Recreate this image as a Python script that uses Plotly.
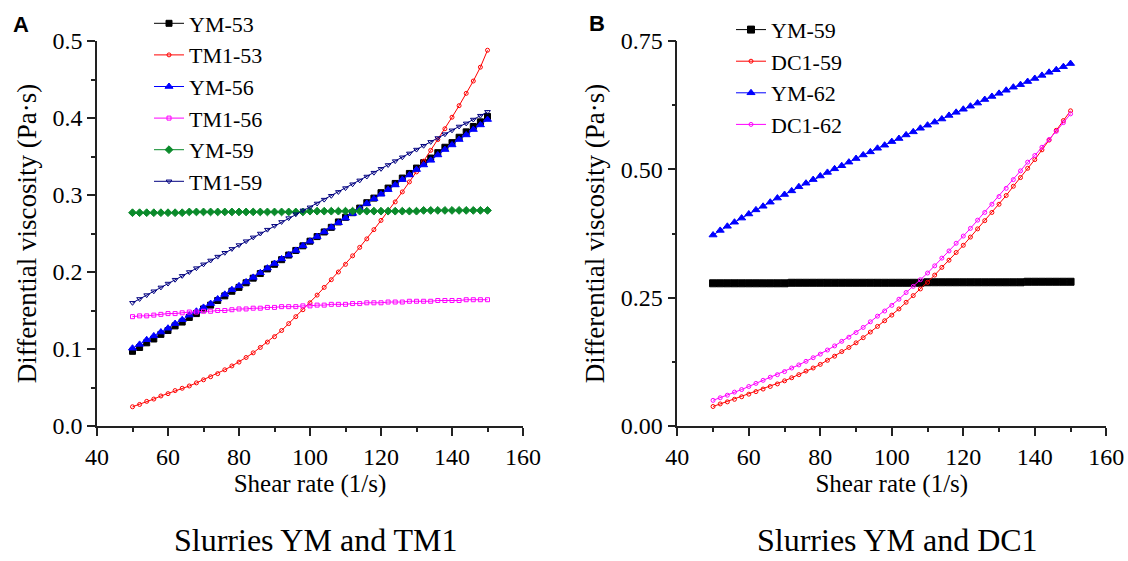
import plotly.graph_objects as go

# Shear rate (1/s) sampled every 2 units
shear_rate = list(range(50, 151, 2))

# ---- Slurries YM and TM1: differential viscosity (Pa·s) ----
ym_53 = [0.097, 0.102, 0.108, 0.113, 0.119, 0.124, 0.130, 0.135, 0.141, 0.146,
         0.152, 0.157, 0.163, 0.169, 0.175, 0.180, 0.186, 0.192, 0.198, 0.204,
         0.210, 0.216, 0.222, 0.228, 0.234, 0.240, 0.246, 0.252, 0.258, 0.265,
         0.271, 0.277, 0.283, 0.290, 0.296, 0.303, 0.309, 0.315, 0.322, 0.328,
         0.335, 0.342, 0.348, 0.355, 0.362, 0.368, 0.375, 0.382, 0.389, 0.395,
         0.402]
tm1_53 = [0.025, 0.028, 0.032, 0.035, 0.039, 0.042, 0.046, 0.049, 0.052, 0.056,
          0.060, 0.064, 0.068, 0.073, 0.078, 0.083, 0.089, 0.095, 0.102, 0.109,
          0.116, 0.124, 0.133, 0.142, 0.151, 0.160, 0.170, 0.180, 0.190, 0.200,
          0.210, 0.221, 0.232, 0.243, 0.255, 0.267, 0.279, 0.291, 0.304, 0.317,
          0.330, 0.344, 0.358, 0.372, 0.386, 0.401, 0.416, 0.432, 0.448, 0.466,
          0.488]
ym_56 = [0.101, 0.106, 0.112, 0.117, 0.122, 0.127, 0.133, 0.138, 0.144, 0.149,
         0.154, 0.159, 0.165, 0.171, 0.177, 0.182, 0.187, 0.193, 0.199, 0.205,
         0.211, 0.217, 0.222, 0.228, 0.234, 0.240, 0.246, 0.252, 0.258, 0.264,
         0.270, 0.276, 0.282, 0.289, 0.295, 0.301, 0.307, 0.313, 0.320, 0.326,
         0.333, 0.339, 0.345, 0.352, 0.359, 0.365, 0.372, 0.378, 0.385, 0.391,
         0.398]
tm1_56 = [0.142, 0.143, 0.143, 0.144, 0.145, 0.146, 0.146, 0.147, 0.148, 0.148,
          0.149, 0.149, 0.150, 0.150, 0.151, 0.152, 0.152, 0.153, 0.153, 0.154,
          0.154, 0.155, 0.155, 0.155, 0.156, 0.156, 0.157, 0.157, 0.158, 0.158,
          0.158, 0.159, 0.159, 0.160, 0.160, 0.160, 0.161, 0.161, 0.161, 0.162,
          0.162, 0.162, 0.162, 0.163, 0.163, 0.163, 0.163, 0.164, 0.164, 0.164,
          0.164]
ym_59a = [0.277, 0.277, 0.277, 0.277, 0.277, 0.277, 0.277, 0.277, 0.278, 0.278,
          0.278, 0.278, 0.278, 0.278, 0.278, 0.278, 0.278, 0.278, 0.278, 0.278,
          0.278, 0.278, 0.278, 0.278, 0.278, 0.279, 0.279, 0.279, 0.279, 0.279,
          0.279, 0.279, 0.279, 0.279, 0.279, 0.279, 0.279, 0.279, 0.279, 0.279,
          0.279, 0.280, 0.280, 0.280, 0.280, 0.280, 0.280, 0.280, 0.280, 0.280,
          0.280]
tm1_59 = [0.160, 0.165, 0.170, 0.175, 0.180, 0.185, 0.190, 0.195, 0.200, 0.205,
          0.210, 0.215, 0.220, 0.225, 0.230, 0.235, 0.240, 0.245, 0.250, 0.255,
          0.260, 0.265, 0.270, 0.275, 0.280, 0.284, 0.289, 0.294, 0.299, 0.304,
          0.309, 0.314, 0.319, 0.324, 0.329, 0.334, 0.339, 0.344, 0.349, 0.354,
          0.359, 0.364, 0.369, 0.374, 0.379, 0.384, 0.389, 0.393, 0.398, 0.403,
          0.408]

# ---- Slurries YM and DC1: differential viscosity (Pa·s) ----
ym_59b = [0.278, 0.278, 0.278, 0.278, 0.278, 0.278, 0.278, 0.278, 0.278, 0.278,
          0.278, 0.279, 0.279, 0.279, 0.279, 0.279, 0.279, 0.279, 0.279, 0.279,
          0.279, 0.279, 0.279, 0.279, 0.279, 0.279, 0.279, 0.279, 0.279, 0.279,
          0.280, 0.280, 0.280, 0.280, 0.280, 0.280, 0.280, 0.280, 0.280, 0.280,
          0.280, 0.280, 0.280, 0.280, 0.281, 0.281, 0.281, 0.281, 0.281, 0.281,
          0.281]
dc1_59 = [0.038, 0.043, 0.047, 0.052, 0.057, 0.062, 0.067, 0.072, 0.077, 0.082,
          0.088, 0.094, 0.100, 0.107, 0.113, 0.120, 0.128, 0.136, 0.145, 0.153,
          0.162, 0.172, 0.183, 0.194, 0.205, 0.216, 0.228, 0.241, 0.254, 0.267,
          0.280, 0.294, 0.309, 0.323, 0.338, 0.352, 0.368, 0.384, 0.400, 0.416,
          0.432, 0.449, 0.467, 0.484, 0.502, 0.519, 0.538, 0.557, 0.576, 0.595,
          0.614]
ym_62 = [0.372, 0.381, 0.389, 0.397, 0.405, 0.413, 0.421, 0.428, 0.436, 0.444,
         0.451, 0.458, 0.466, 0.473, 0.480, 0.487, 0.494, 0.501, 0.507, 0.514,
         0.521, 0.528, 0.534, 0.541, 0.547, 0.554, 0.560, 0.567, 0.573, 0.580,
         0.586, 0.592, 0.598, 0.605, 0.611, 0.617, 0.623, 0.629, 0.636, 0.642,
         0.648, 0.654, 0.660, 0.665, 0.671, 0.677, 0.683, 0.689, 0.694, 0.700,
         0.706]
dc1_62 = [0.050, 0.055, 0.060, 0.066, 0.071, 0.077, 0.083, 0.089, 0.095, 0.100,
          0.106, 0.113, 0.119, 0.126, 0.133, 0.140, 0.148, 0.156, 0.165, 0.173,
          0.182, 0.192, 0.203, 0.214, 0.224, 0.235, 0.247, 0.260, 0.272, 0.285,
          0.298, 0.312, 0.327, 0.341, 0.356, 0.370, 0.385, 0.401, 0.416, 0.432,
          0.447, 0.463, 0.480, 0.497, 0.514, 0.527, 0.543, 0.558, 0.574, 0.591,
          0.608]

SERIF = "Liberation Serif, Times New Roman, serif"
SANS = "Liberation Sans, Arial, sans-serif"
AXIS_COLOR = "#222222"

fig = go.Figure()


def add_series(name, values, color, symbol, xa, ya, legend, size=5):
    fig.add_trace(go.Scatter(
        x=shear_rate, y=values, name=name, mode="lines+markers",
        line=dict(color=color, width=1),
        marker=dict(symbol=symbol, size=size, color=color,
                    line=dict(color=color, width=1)),
        xaxis=xa, yaxis=ya, legend=legend,
    ))


# Panel A
add_series("YM-53", ym_53, "#000000", "square", "x", "y", "legend", 6)
add_series("TM1-53", tm1_53, "#ff0000", "circle-open", "x", "y", "legend", 4)
add_series("YM-56", ym_56, "#0000ff", "triangle-up", "x", "y", "legend", 7)
add_series("TM1-56", tm1_56, "#ff00ff", "square-open", "x", "y", "legend", 4)
add_series("YM-59", ym_59a, "#0a8a2a", "diamond", "x", "y", "legend", 6)
add_series("TM1-59", tm1_59, "#000080", "triangle-down-open", "x", "y", "legend", 5)

# Panel B
add_series("YM-59", ym_59b, "#000000", "square", "x2", "y2", "legend2", 7)
add_series("DC1-59", dc1_59, "#ff0000", "circle-open", "x2", "y2", "legend2", 4)
add_series("YM-62", ym_62, "#0000ff", "triangle-up", "x2", "y2", "legend2", 7)
add_series("DC1-62", dc1_62, "#ff00ff", "circle-open", "x2", "y2", "legend2", 4)


def x_axis(domain, anchor):
    return dict(
        domain=domain, anchor=anchor, range=[40, 160], tick0=40, dtick=20,
        automargin=False,
        showline=True, linecolor=AXIS_COLOR, linewidth=1.5,
        ticks="outside", ticklen=8, tickwidth=1.5, tickcolor=AXIS_COLOR,
        minor=dict(dtick=10, tick0=40, ticks="outside", ticklen=4,
                   tickwidth=1.5, tickcolor=AXIS_COLOR, showgrid=False),
        showgrid=False, zeroline=False,
        tickfont=dict(family=SERIF, size=24, color="#000000"),
        title=dict(text="Shear rate (1/s)", standoff=5,
                   font=dict(family=SERIF, size=25, color="#000000")),
    )


def y_axis(domain, anchor, top, step, fmt):
    return dict(
        domain=domain, anchor=anchor, range=[0, top], tick0=0, dtick=step,
        tickformat=fmt, automargin=False,
        showline=True, linecolor=AXIS_COLOR, linewidth=1.5,
        ticks="outside", ticklen=8, tickwidth=1.5, tickcolor=AXIS_COLOR,
        minor=dict(dtick=step / 2, tick0=0, ticks="outside", ticklen=4,
                   tickwidth=1.5, tickcolor=AXIS_COLOR, showgrid=False),
        showgrid=False, zeroline=False,
        tickfont=dict(family=SERIF, size=24, color="#000000"),
        title=dict(text="Differential viscosity (Pa·s)", standoff=8,
                   font=dict(family=SERIF, size=27, color="#000000")),
    )


W, H = 1128, 561
y_dom = [135 / H, 520 / H]

legend_style = dict(
    bgcolor="rgba(0,0,0,0)", borderwidth=0, xanchor="left", yanchor="top",
    font=dict(family=SERIF, size=22, color="#000000"), tracegroupgap=0,
)

fig.update_layout(
    template="none",
    width=W, height=H, margin=dict(l=0, r=0, t=0, b=0, pad=0),
    paper_bgcolor="#ffffff", plot_bgcolor="#ffffff",
    xaxis=x_axis([97 / W, 523 / W], "y"),
    yaxis=y_axis(y_dom, "x", 0.5, 0.1, ".1f"),
    xaxis2=x_axis([677.3 / W, 1106.3 / W], "y2"),
    yaxis2=y_axis(y_dom, "x2", 0.75, 0.25, ".2f"),
    legend=dict(x=149 / W, y=1 - 2.5 / H, **legend_style),
    legend2=dict(x=731 / W, y=1 - 8.8 / H, **legend_style),
    showlegend=True,
    annotations=[
        dict(text="<b>A</b>", x=11 / W, y=1 - 25 / H, xref="paper", yref="paper",
             xanchor="left", yanchor="middle", showarrow=False,
             font=dict(family=SANS, size=22, color="#000000")),
        dict(text="<b>B</b>", x=587 / W, y=1 - 24 / H, xref="paper", yref="paper",
             xanchor="left", yanchor="middle", showarrow=False,
             font=dict(family=SANS, size=22, color="#000000")),
        dict(text="Slurries YM and TM1", x=316 / W, y=21 / H, xref="paper",
             yref="paper", xanchor="center", yanchor="middle", showarrow=False,
             font=dict(family=SERIF, size=32, color="#000000")),
        dict(text="Slurries YM and DC1", x=897 / W, y=21 / H, xref="paper",
             yref="paper", xanchor="center", yanchor="middle", showarrow=False,
             font=dict(family=SERIF, size=32, color="#000000")),
    ],
)

fig.write_html("out.html")
